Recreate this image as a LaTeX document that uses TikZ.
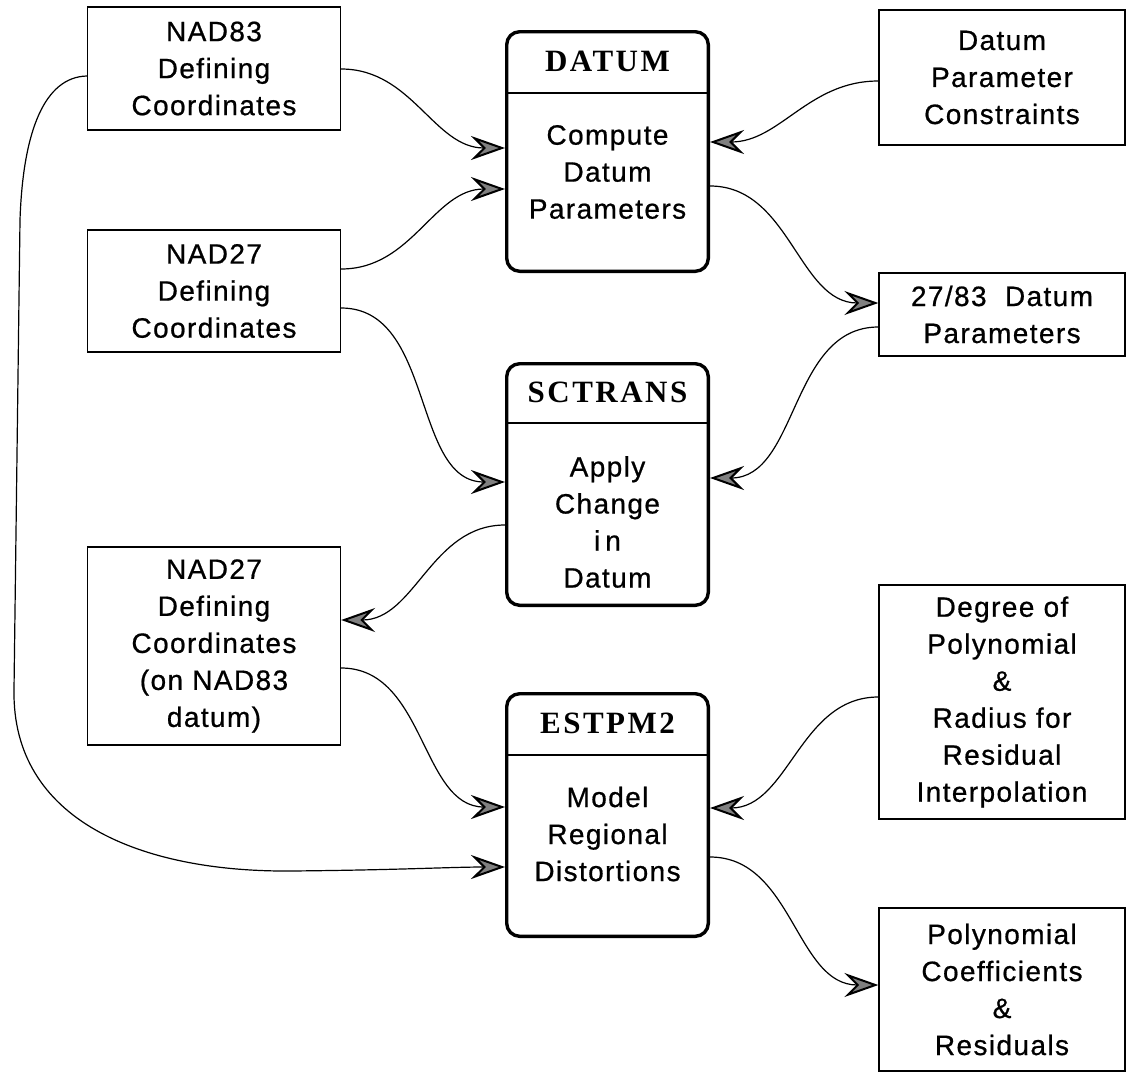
\documentclass[tikz,border=0pt]{standalone}
\usepackage{fontspec}
\usetikzlibrary{arrows.meta}
\newfontfamily\labelfont{Liberation Sans}[LetterSpace=5, FakeBold=0.7]
\newfontfamily\titlefont{Liberation Serif}[LetterSpace=8]
\begin{document}
\begin{tikzpicture}[x=1pt,y=-1pt,
  databox/.style={draw, line width=1.3pt, minimum width=253pt, inner sep=0pt, align=center,
    font=\labelfont\fontsize{28}{37}\selectfont},
  procbox/.style={draw, line width=3.4pt, rounded corners=13pt, minimum width=201.6pt, inner sep=0pt},
  divider/.style={line width=2.6pt},
  proctitle/.style={inner sep=0pt, font=\titlefont\bfseries\fontsize{31}{33}\selectfont},
  proctext/.style={align=center, inner sep=0pt, font=\labelfont\fontsize{28}{37}\selectfont},
  flow/.style={line width=1.2pt,
    -{Stealth[length=34pt,width=24pt,inset=12pt,line width=2pt,fill=black!50]}},
]
\useasboundingbox (0,0) rectangle (1126,1071);

% data sets on the left
\node[databox, minimum height=123pt] (nad83) at (214,68.5) {NAD83\\Defining\\Coordinates};
\node[databox, minimum height=122pt] (nad27) at (214,291) {NAD27\\Defining\\Coordinates};
\node[databox, minimum height=198pt] (nad27on83) at (214,646) {NAD27\\Defining\\Coordinates\\(on NAD83\\datum)};

% data sets on the right
\node[databox, minimum width=246pt, minimum height=135pt] (constraints) at (1002,77.5) {Datum\\Parameter\\Constraints};
\node[databox, minimum width=246pt, minimum height=83pt] (params) at (1002,314.5) {27/83\ \ Datum\\Parameters};
\node[databox, minimum width=246pt, minimum height=234pt] (degree) at (1002,702) {Degree of\\Polynomial\\\&\\Radius for\\Residual\\Interpolation};
\node[databox, minimum width=246pt, minimum height=163pt] (coeffs) at (1002,989.5) {Polynomial\\Coefficients\\\&\\Residuals};

% program DATUM
\node[procbox, minimum height=239.6pt] (datum) at (607.5,151.5) {};
\node[proctitle] (datumtitle) at (607.5,61.5) {DATUM};
\draw[divider] (datum.west |- 0,93) -- (datum.east |- 0,93);
\node[proctext] (datumtext) at (607.5,172) {Compute\\Datum\\Parameters};

% program SCTRANS
\node[procbox, minimum height=241.6pt] (sctrans) at (607.5,484.5) {};
\node[proctitle] (sctranstitle) at (607.5,392.5) {SCTRANS};
\draw[divider] (sctrans.west |- 0,423) -- (sctrans.east |- 0,423);
\node[proctext] (sctranstext) at (607.5,522) {Apply\\Change\\i\kern5pt n\\Datum};

% program ESTPM2
\node[procbox, minimum height=242.6pt] (estpm2) at (607.5,815) {};
\node[proctitle] (estpm2title) at (607.5,723.5) {ESTPM2};
\draw[divider] (estpm2.west |- 0,755) -- (estpm2.east |- 0,755);
\node[proctext] (estpm2text) at (607.5,834) {Model\\Regional\\Distortions};

% data flow
\draw[flow] (nad83.east |- 0,69) to[out=0,in=180] (datum.west |- 0,148);
\draw[flow] (nad27.east |- 0,269) to[out=0,in=180] (datum.west |- 0,189);
\draw[flow] (constraints.west |- 0,81) to[out=180,in=0] (datum.east |- 0,142);
\draw[flow] (datum.east |- 0,186) to[out=0,in=180] (params.west |- 0,303);
\draw[flow] (nad27.east |- 0,308) to[out=0,in=180] (sctrans.west |- 0,482);
\draw[flow] (params.west |- 0,327) to[out=180,in=0] (sctrans.east |- 0,478);
\draw[flow] (sctrans.west |- 0,525) to[out=180,in=0] (nad27on83.east |- 0,620);
\draw[flow] (nad27on83.east |- 0,668) to[out=0,in=180] (estpm2.west |- 0,807);
\draw[flow] (degree.west |- 0,697) to[out=180,in=0] (estpm2.east |- 0,808);
\draw[flow] (estpm2.east |- 0,857) to[out=0,in=180] (coeffs.west |- 0,985);
\draw[flow] (nad83.west |- 0,76) .. controls (45,77) and (23,130) .. (20,220)
  -- (14,690) .. controls (12,820) and (140,872) .. (290,871)
  .. controls (400,870) and (450,867) .. (estpm2.west |- 0,867);
\end{tikzpicture}
\end{document}
